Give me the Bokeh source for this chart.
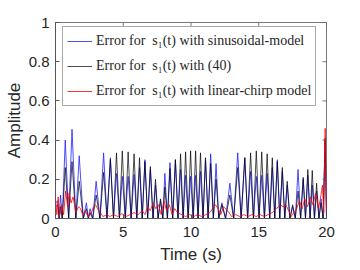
from bokeh.plotting import figure
from bokeh.models import Legend, LegendItem, FixedTicker, Range1d
from bokeh.embed import file_html
from bokeh.resources import INLINE

# ---- data ----
peak_t = [0.17, 0.37, 0.72, 1.22, 1.75, 2.28, 2.55, 3.0, 3.55, 4.05, 4.5, 4.93, 5.36, 5.8, 6.2, 6.6,
          7.0, 7.38, 7.75, 8.07, 8.45, 8.85, 9.23, 9.6, 9.97, 10.34, 10.7, 11.07, 11.45, 11.85, 12.28,
          12.87, 13.45, 13.97, 14.4, 14.82, 15.22, 15.62, 16.0, 16.37, 16.74, 17.1, 17.5, 17.9, 18.28,
          18.62, 18.95, 19.27, 19.6, 19.9]
trough_t = [0.0, 0.27, 0.5, 0.97, 1.5, 2.05, 2.42, 2.75, 3.28, 3.8, 4.28, 4.72, 5.15, 5.58, 6.0, 6.4,
            6.8, 7.2, 7.57, 7.92, 8.26, 8.65, 9.04, 9.42, 9.79, 10.16, 10.52, 10.89, 11.26, 11.65, 12.05,
            12.55, 13.15, 13.7, 14.18, 14.61, 15.02, 15.42, 15.81, 16.18, 16.55, 16.92, 17.3, 17.7, 18.09,
            18.45, 18.79, 19.11, 19.44, 19.75, 20.0]
black_peak = [0.07, 0.06, 0.26, 0.29, 0.19, 0.05, 0.03, 0.12, 0.235, 0.30, 0.335, 0.345, 0.34, 0.33,
              0.31, 0.29, 0.265, 0.20, 0.10, 0.16, 0.255, 0.30, 0.33, 0.34, 0.345, 0.345, 0.335, 0.31,
              0.28, 0.20, 0.07, 0.12, 0.26, 0.31, 0.335, 0.345, 0.34, 0.33, 0.31, 0.29, 0.26, 0.19,
              0.07, 0.14, 0.21, 0.25, 0.245, 0.18, 0.08, 0.41]
blue_peak = [0.09, 0.12, 0.40, 0.455, 0.32, 0.08, 0.05, 0.19, 0.335, 0.31, 0.23, 0.215, 0.215, 0.225,
             0.26, 0.30, 0.25, 0.17, 0.09, 0.23, 0.285, 0.30, 0.25, 0.22, 0.215, 0.22, 0.24, 0.30,
             0.33, 0.28, 0.08, 0.18, 0.335, 0.31, 0.24, 0.215, 0.22, 0.23, 0.26, 0.30, 0.24, 0.17,
             0.06, 0.25, 0.20, 0.22, 0.17, 0.14, 0.10, 0.40]
black_trough = [0.06] + [0.0] * 50
blue_trough = [0.08] + [0.0] * 50

red_t = [0, 0.1, 0.2, 0.3, 0.45, 0.6, 0.75, 0.9, 1.0, 1.15, 1.3, 1.5, 1.7, 1.85, 2.0, 2.2, 2.4, 2.6,
         2.8, 2.95, 3.1, 3.3, 3.5, 3.8, 4.0, 4.3, 4.6, 4.9, 5.2, 5.5, 5.8, 6.1, 6.4, 6.6, 6.8, 7.0,
         7.2, 7.4, 7.6, 7.8, 8.0, 8.2, 8.4, 8.6, 8.8, 9.0, 9.3, 9.6, 9.9, 10.2, 10.5, 10.8, 11.1,
         11.4, 11.6, 11.8, 12.0, 12.2, 12.4, 12.7, 13.0, 13.3, 13.6, 13.9, 14.2, 14.5, 14.8, 15.1,
         15.4, 15.7, 16.0, 16.3, 16.6, 16.8, 17.0, 17.2, 17.4, 17.6, 17.8, 18.0, 18.2, 18.4, 18.6,
         18.8, 19.0, 19.2, 19.4, 19.55, 19.7, 19.8, 19.9, 20.0]
red_v = [0.10, 0.02, 0.11, 0.01, 0.07, 0.02, 0.14, 0.06, 0.13, 0.08, 0.11, 0.03, 0.06, 0.05, 0.02,
         0.04, 0.01, 0.02, 0.06, 0.07, 0.05, 0.03, 0.01, 0.02, 0.01, 0.02, 0.01, 0.025, 0.01, 0.02,
         0.03, 0.02, 0.04, 0.02, 0.06, 0.04, 0.08, 0.05, 0.07, 0.02, 0.09, 0.04, 0.07, 0.02, 0.05,
         0.03, 0.02, 0.01, 0.02, 0.01, 0.02, 0.01, 0.02, 0.03, 0.05, 0.07, 0.05, 0.02, 0.06, 0.04,
         0.01, 0.02, 0.01, 0.02, 0.01, 0.02, 0.01, 0.02, 0.01, 0.02, 0.03, 0.05, 0.07, 0.06, 0.07,
         0.04, 0.01, 0.03, 0.05, 0.09, 0.05, 0.10, 0.06, 0.11, 0.07, 0.13, 0.05, 0.10, 0.17, 0.03,
         0.46, 0.05]

x_ticks = [0, 5, 10, 15, 20]
y_ticks = [0, 0.2, 0.4, 0.6, 0.8, 1]
labels = ["Error for  s\u2081(t) with sinusoidal-model",
          "Error for  s\u2081(t) with (40)",
          "Error for  s\u2081(t) with linear-chirp model"]
colors = ["#2020ff", "#000000", "#ff0000"]


def merge(tt, tv, pt, pv):
    xs, ys = [], []
    for i in range(len(pt)):
        xs += [tt[i], pt[i]]
        ys += [tv[i], pv[i]]
    xs.append(tt[-1])
    ys.append(tv[-1])
    return xs, ys


bx, by = merge(trough_t, blue_trough, peak_t, blue_peak)
kx, ky = merge(trough_t, black_trough, peak_t, black_peak)

TXT = "#262626"
FONT = "Liberation Sans"
EDGE = "#555555"

p = figure(width=352, height=268, output_backend="svg", toolbar_location=None,
           x_range=Range1d(0, 20), y_range=Range1d(0, 1),
           min_border_left=55, min_border_right=26, min_border_top=22, min_border_bottom=50)
p.outline_line_color = EDGE
p.outline_line_width = 0.8
p.xgrid.visible = False
p.ygrid.visible = False

r_blue = p.line(bx, by, line_color=colors[0], line_width=1.0, line_alpha=0.8)
r_black = p.line(kx, ky, line_color=colors[1], line_width=1.0, line_alpha=0.7)
r_red = p.line(red_t, red_v, line_color=colors[2], line_width=1.0, line_alpha=0.8)

# inward ticks on the top and right edges of the box
p.segment(x0=x_ticks, y0=[1.0] * len(x_ticks), x1=x_ticks, y1=[0.98] * len(x_ticks),
          line_color=EDGE, line_width=0.8)
p.segment(x0=[20.0] * len(y_ticks), y0=y_ticks, x1=[19.7] * len(y_ticks), y1=y_ticks,
          line_color=EDGE, line_width=0.8)

for ax in (p.xaxis[0], p.yaxis[0]):
    ax.major_tick_in = 4
    ax.major_tick_out = 0
    ax.minor_tick_in = 0
    ax.minor_tick_out = 0
    ax.axis_line_color = EDGE
    ax.major_tick_line_color = EDGE
    ax.major_label_text_font = FONT
    ax.major_label_text_font_size = "15px"
    ax.major_label_text_color = TXT
    ax.axis_label_text_font = FONT
    ax.axis_label_text_font_size = "17px"
    ax.axis_label_text_font_style = "normal"
    ax.axis_label_text_color = TXT

p.xaxis[0].ticker = FixedTicker(ticks=x_ticks)
p.yaxis[0].ticker = FixedTicker(ticks=y_ticks)
p.yaxis[0].major_label_overrides = {0: "0", 0.2: "0.2", 0.4: "0.4", 0.6: "0.6", 0.8: "0.8", 1: "1"}
p.xaxis[0].axis_label = "Time (s)"
p.yaxis[0].axis_label = "Amplitude"
p.xaxis[0].major_label_standoff = 8
p.yaxis[0].major_label_standoff = 6
p.xaxis[0].axis_label_standoff = 5
p.yaxis[0].axis_label_standoff = 2

legend = Legend(items=[LegendItem(label=labels[0], renderers=[r_blue]),
                       LegendItem(label=labels[1], renderers=[r_black]),
                       LegendItem(label=labels[2], renderers=[r_red])],
                location=(7, 112))
legend.label_text_font = "Liberation Serif"
legend.label_text_font_size = "14px"
legend.label_text_color = TXT
legend.border_line_color = EDGE
legend.border_line_width = 0.8
legend.background_fill_color = "white"
legend.background_fill_alpha = 1
legend.padding = 4
legend.spacing = 5
legend.margin = 0
legend.glyph_width = 25
legend.glyph_height = 20
legend.label_height = 20
legend.label_standoff = 4
p.add_layout(legend, "center")

open("out.html", "w").write(file_html(p, INLINE))
